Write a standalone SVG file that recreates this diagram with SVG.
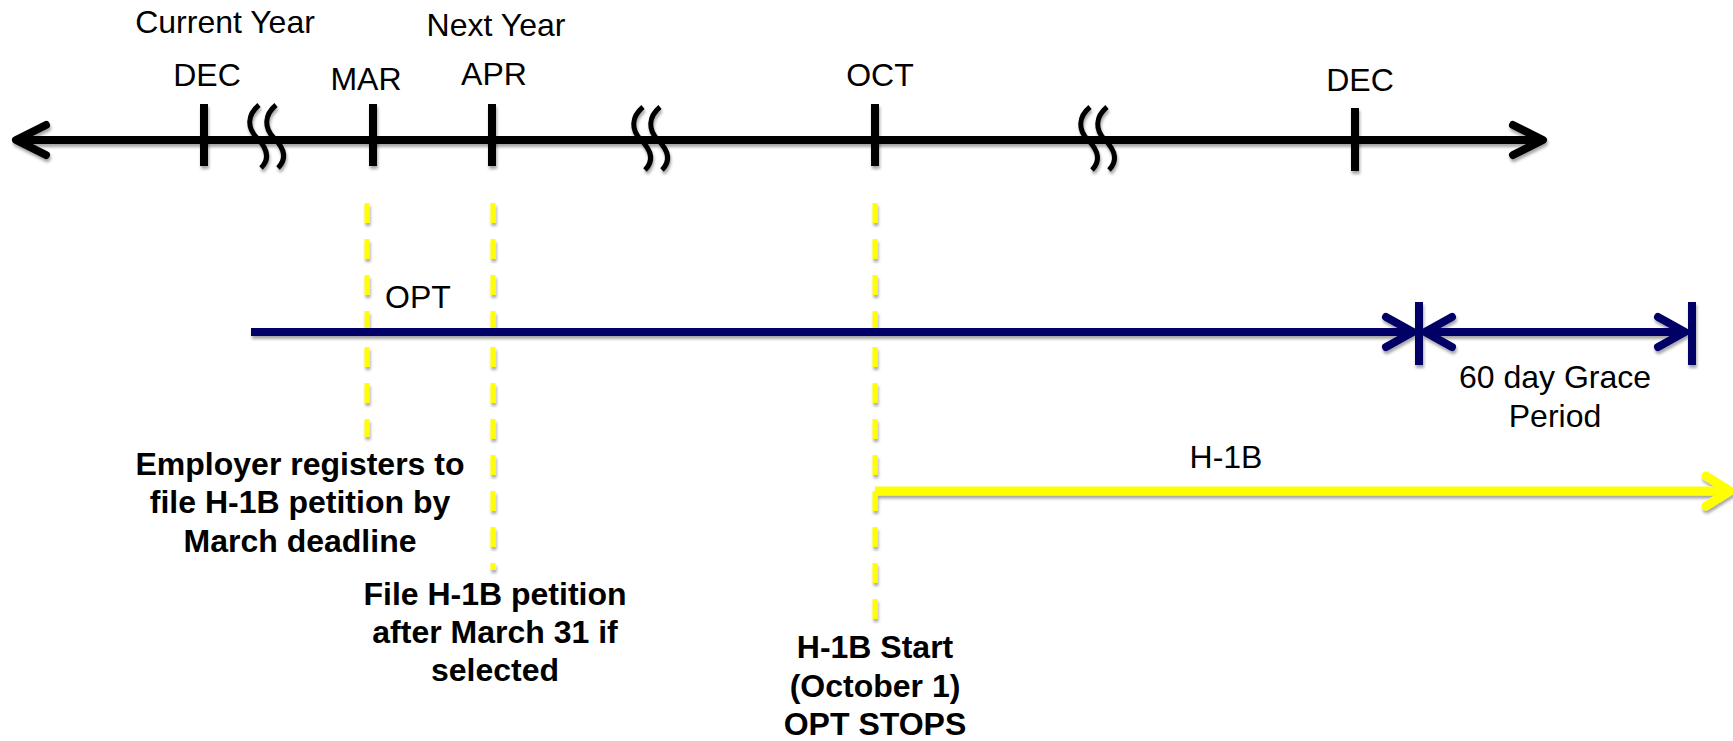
<svg xmlns="http://www.w3.org/2000/svg" width="1733" height="741" viewBox="0 0 1733 741">
<defs>
<filter id="sh" filterUnits="userSpaceOnUse" x="0" y="0" width="1733" height="741">
<feDropShadow dx="1" dy="3" stdDeviation="1.6" flood-color="#000" flood-opacity="0.35"/>
</filter>
<style>
.t{font-family:"Liberation Sans",Arial,sans-serif;font-size:32px;fill:#000;text-anchor:middle}
.b{font-family:"Liberation Sans",Arial,sans-serif;font-size:32px;font-weight:bold;fill:#000;text-anchor:middle}
.ax{stroke:#000;stroke-width:8;fill:none}
.hd{stroke-linecap:round;stroke-linejoin:round;fill:none}
.tk{stroke:#000;stroke-width:8}
.brk{stroke:#000;stroke-width:5;fill:none}
.dash{stroke:#ffff00;stroke-width:5;stroke-dasharray:20 16}
.opt{stroke:#000066;stroke-width:8;fill:none}
.h1b{stroke:#ffff00;stroke-width:9;fill:none}
</style>
</defs>
<rect width="1733" height="741" fill="#fff"/>

<g id="connectors" filter="url(#sh)">
  <!-- main timeline axis -->
  <line class="ax" x1="16" y1="140" x2="1543" y2="140"/>
  <path class="ax hd" d="M46,125 L16,140 L46,155"/>
  <path class="ax hd" d="M1513,125 L1543,140 L1513,155"/>
  <!-- break marks -->
  <g id="breaks">
    <path class="brk" d="M259,105 C247,115 247,128 257,138 C269,150 269,160 261,168"/>
    <path class="brk" d="M276,105 C264,115 264,128 274,138 C286,150 286,160 278,168"/>
    <path class="brk" d="M643,107 C631,117 631,130 641,140 C653,152 653,162 645,170"/>
    <path class="brk" d="M660,107 C648,117 648,130 658,140 C670,152 670,162 662,170"/>
    <path class="brk" d="M1090,107 C1078,117 1078,130 1088,140 C1100,152 1100,162 1092,170"/>
    <path class="brk" d="M1107,107 C1095,117 1095,130 1105,140 C1117,152 1117,162 1109,170"/>
  </g>
  <!-- yellow dashed guides -->
  <line class="dash" x1="367" y1="203" x2="367" y2="437"/>
  <line class="dash" x1="493" y1="203" x2="493" y2="570"/>
  <line class="dash" x1="875" y1="203" x2="875" y2="619"/>
  <!-- OPT arrow -->
  <line class="opt" x1="251" y1="332" x2="1412" y2="332"/>
  <path class="opt hd" d="M1386,317 L1413,332 L1386,347"/>
  <line class="opt" x1="1419" y1="302" x2="1419" y2="365"/>
  <!-- grace period arrow -->
  <line class="opt" x1="1426" y1="332" x2="1686" y2="332"/>
  <path class="opt hd" d="M1452,317 L1425,332 L1452,347"/>
  <path class="opt hd" d="M1658,317 L1685,332 L1658,347"/>
  <line class="opt" x1="1692" y1="302" x2="1692" y2="365"/>
  <!-- H-1B arrow -->
  <line class="h1b" x1="875" y1="491" x2="1728" y2="491"/>
  <path class="h1b hd" d="M1706,476 L1730,491 L1706,506"/>
</g>

<g id="ticks" filter="url(#sh)">
  <line class="tk" x1="204" y1="104" x2="204" y2="166"/>
  <line class="tk" x1="373" y1="104" x2="373" y2="166"/>
  <line class="tk" x1="492" y1="104" x2="492" y2="166"/>
  <line class="tk" x1="875" y1="104" x2="875" y2="166"/>
  <line class="tk" x1="1355" y1="108" x2="1355" y2="171"/>
</g>

<g id="label-current-year"><text class="t" x="225" y="33">Current Year</text></g>
<g id="label-next-year"><text class="t" x="496" y="36">Next Year</text></g>
<g id="label-dec1"><text class="t" x="207" y="86">DEC</text></g>
<g id="label-mar"><text class="t" x="366" y="90">MAR</text></g>
<g id="label-apr"><text class="t" x="494" y="85">APR</text></g>
<g id="label-oct"><text class="t" x="880" y="86">OCT</text></g>
<g id="label-dec2"><text class="t" x="1360" y="91">DEC</text></g>

<g id="label-opt"><text class="t" x="418" y="308">OPT</text></g>
<g id="label-grace">
  <text class="t" x="1555" y="388">60 day Grace</text>
  <text class="t" x="1555" y="427">Period</text>
</g>
<g id="label-h1b"><text class="t" x="1226" y="468">H-1B</text></g>

<g id="note-register">
  <text class="b" x="300" y="475">Employer registers to</text>
  <text class="b" x="300" y="513">file H-1B petition by</text>
  <text class="b" x="300" y="552">March deadline</text>
</g>
<g id="note-file">
  <text class="b" x="495" y="605">File H-1B petition</text>
  <text class="b" x="495" y="643">after March 31 if</text>
  <text class="b" x="495" y="681">selected</text>
</g>
<g id="note-start">
  <text class="b" x="875" y="658">H-1B Start</text>
  <text class="b" x="875" y="697">(October 1)</text>
  <text class="b" x="875" y="735">OPT STOPS</text>
</g>
</svg>
